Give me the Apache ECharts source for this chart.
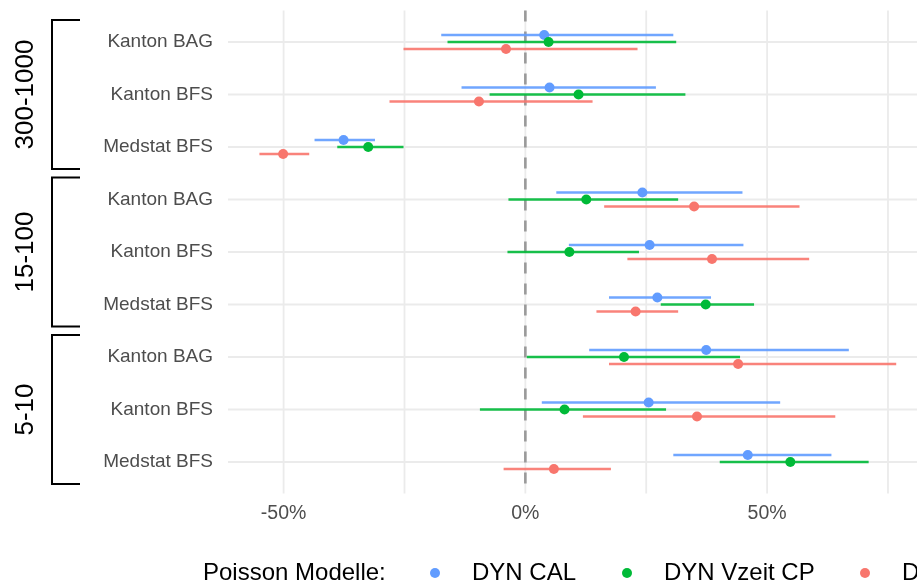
<!DOCTYPE html>
<html>
<head>
<meta charset="utf-8">
<script src="https://cdn.jsdelivr.net/npm/echarts/dist/echarts.min.js"></script>
<style>
  html, body { margin: 0; padding: 0; background: #fff; }
  #chart { width: 917px; height: 581px; }
</style>
</head>
<body>
<div id="chart"></div>
<script>
// Zeilen (von oben nach unten) und Gruppen
const rowLabels = ['Kanton BAG', 'Kanton BFS', 'Medstat BFS',
                   'Kanton BAG', 'Kanton BFS', 'Medstat BFS',
                   'Kanton BAG', 'Kanton BFS', 'Medstat BFS'];
const groupLabels = ['300-1000', '15-100', '5-10'];
const groupRows = [[0, 2], [3, 5], [6, 8]];

const modelNames = ['DYN CAL', 'DYN Vzeit CP', 'DYN Vzeit'];

// Schaetzer und Intervalle in Prozent
const calEst  = [3.9, 5.0, -37.6, 24.2, 25.7, 27.3, 37.4, 25.5, 46.0];
const calLow  = [-17.4, -13.2, -43.6, 6.4, 9.0, 17.3, 13.2, 3.4, 30.6];
const calHigh = [30.6, 27.0, -31.1, 44.9, 45.1, 38.4, 66.9, 52.7, 63.3];

const cpEst  = [4.8, 11.0, -32.5, 12.6, 9.1, 37.3, 20.4, 8.1, 54.8];
const cpLow  = [-16.1, -7.4, -38.9, -3.5, -3.7, 28.0, 0.3, -9.4, 40.2];
const cpHigh = [31.2, 33.1, -25.2, 31.6, 23.5, 47.3, 44.4, 29.1, 71.0];

const vzEst  = [-4.0, -9.6, -50.1, 34.9, 38.6, 22.8, 44.0, 35.5, 5.9];
const vzLow  = [-25.2, -28.1, -55.0, 16.3, 21.1, 14.7, 17.3, 11.9, -4.5];
const vzHigh = [23.2, 13.9, -44.7, 56.7, 58.7, 31.6, 76.7, 64.1, 17.7];

const xGridTicks = [-50, -25, 0, 25, 50, 75];
const xLabelTicks = [-50, 0, 50];

const X_MIN = -61.5, X_MAX = 81;
const Y_MIN = -0.6, Y_MAX = 8.6;
const FONT = '"Liberation Sans", Arial, sans-serif';
const colors = ['#619CFF', '#00BA38', '#F8766D'];
const dodge = [-0.133, 0, 0.133];

const chart = echarts.init(document.getElementById('chart'));

function errorBarSeries(idx, low, high, est) {
  const color = colors[idx];
  return {
    type: 'custom',
    name: modelNames[idx],
    itemStyle: { color: color },
    z: 5,
    data: est.map((e, i) => [low[i], high[i], e, i]),
    encode: { x: [0, 1, 2], y: 3 },
    renderItem: function (params, api) {
      const row = api.value(3) + dodge[idx];
      const a = api.coord([api.value(0), row]);
      const b = api.coord([api.value(1), row]);
      const c = api.coord([api.value(2), row]);
      return {
        type: 'group',
        children: [
          { type: 'line', shape: { x1: a[0], y1: a[1], x2: b[0], y2: b[1] },
            style: { stroke: color, lineWidth: 2.3, opacity: 0.9 } },
          { type: 'circle', shape: { cx: c[0], cy: c[1], r: 5 }, style: { fill: color } }
        ]
      };
    }
  };
}

// Gitterlinien selbst zeichnen (Panel reicht nicht bis zu vollen Ticks)
const gridSeries = {
  type: 'custom', silent: true, z: 1,
  data: xGridTicks.map(v => [v]).concat(rowLabels.map((r, i) => [i])),
  renderItem: function (params, api) {
    const v = api.value(0);
    let p1, p2;
    if (params.dataIndex < xGridTicks.length) {
      p1 = api.coord([v, Y_MIN]); p2 = api.coord([v, Y_MAX]);
    } else {
      p1 = api.coord([X_MIN, v]); p2 = api.coord([X_MAX, v]);
    }
    return { type: 'line', shape: { x1: p1[0], y1: p1[1], x2: p2[0], y2: p2[1] },
             style: { stroke: '#EBEBEB', lineWidth: 1.8 } };
  }
};

const zeroLine = {
  type: 'custom', silent: true, z: 3,
  data: [[0]],
  renderItem: function (params, api) {
    const p1 = api.coord([api.value(0), Y_MIN]);
    const p2 = api.coord([api.value(0), Y_MAX]);
    return { type: 'line', shape: { x1: p1[0], y1: p1[1], x2: p2[0], y2: p2[1] },
             style: { stroke: '#9A9A9A', lineWidth: 2.6, lineDash: [11, 10] } };
  }
};

// Klammern und Gruppenbeschriftungen links
const bracketSeries = {
  type: 'custom', silent: true, clip: false, z: 5,
  data: groupRows.map((g, i) => [g[0], g[1], i]),
  renderItem: function (params, api) {
    const top = api.coord([X_MIN, api.value(0) - 0.42])[1];
    const bottom = api.coord([X_MIN, api.value(1) + 0.42])[1];
    return {
      type: 'group',
      children: [
        { type: 'polyline',
          shape: { points: [[80, top], [52, top], [52, bottom], [80, bottom]] },
          style: { stroke: '#000', lineWidth: 2, fill: null } },
        { type: 'text', x: 26, y: (top + bottom) / 2, rotation: Math.PI / 2,
          style: { text: groupLabels[api.value(2)], x: 0, y: 0, align: 'center',
                   verticalAlign: 'middle', fill: '#000', font: '26px ' + FONT } }
      ]
    };
  }
};

// eine Legende pro Modell, damit die Abstaende wie im Original sitzen
function legendFor(idx, dotX) {
  return {
    data: [modelNames[idx]], left: dotX - 5, top: 561, padding: 0,
    icon: 'circle', itemWidth: 10, itemHeight: 10, selectedMode: false,
    textStyle: { color: '#000', fontSize: 24, fontFamily: FONT, padding: [0, 0, 0, 27] }
  };
}

chart.setOption({
  animation: false,
  textStyle: { fontFamily: FONT },
  title: {
    text: 'Poisson Modelle:', left: 203, top: 561, padding: 0,
    textStyle: { color: '#000', fontSize: 24, fontWeight: 'normal', fontFamily: FONT }
  },
  legend: [legendFor(0, 435), legendFor(1, 627), legendFor(2, 865)],
  grid: { left: 228, right: 0, top: 10.5, bottom: 87.5 },
  xAxis: {
    type: 'value', min: X_MIN, max: X_MAX,
    axisLine: { show: false }, axisTick: { show: false }, splitLine: { show: false },
    axisLabel: {
      customValues: xLabelTicks, margin: 10,
      color: '#4D4D4D', fontSize: 19.5, fontFamily: FONT,
      formatter: v => v + '%'
    }
  },
  yAxis: {
    type: 'value', inverse: true, min: Y_MIN, max: Y_MAX,
    axisLine: { show: false }, axisTick: { show: false }, splitLine: { show: false },
    axisLabel: {
      customValues: rowLabels.map((r, i) => i), margin: 15,
      color: '#4D4D4D', fontSize: 19, fontFamily: FONT,
      formatter: v => rowLabels[v]
    }
  },
  series: [
    gridSeries,
    zeroLine,
    errorBarSeries(0, calLow, calHigh, calEst),
    errorBarSeries(1, cpLow, cpHigh, cpEst),
    errorBarSeries(2, vzLow, vzHigh, vzEst),
    bracketSeries
  ]
});
</script>
</body>
</html>
